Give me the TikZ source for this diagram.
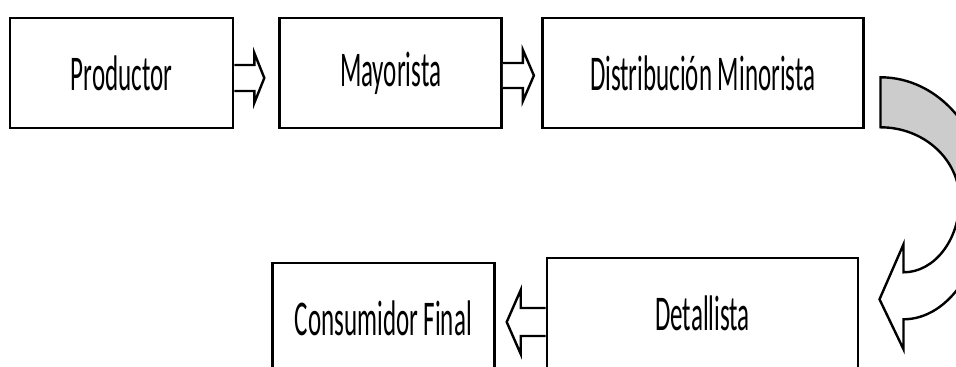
\documentclass[tikz,border=0pt]{standalone}
\usepackage{fontspec}
\setmainfont{Carlito}[FakeStretch=0.5]
\usetikzlibrary{positioning,calc}

\definecolor{gris}{RGB}{204,204,204}

\tikzset{
  caja/.style={draw, line width=1.3pt, minimum height=55pt, inner sep=0pt,
    font=\fontsize{25}{30}\selectfont},
  flecha/.style={draw, line width=1.2pt, fill=white, line join=miter},
}

% flecha de bloque: desde, hasta, dy, medio cuerpo, media punta, base punta, punta
\newcommand{\flechabloque}[7]{%
  \draw[flecha] let \p1=(#1), \p2=(#2) in
    ({\x1},{\y1+(#3)+(#4)}) -- ({\x2+(#6)},{\y1+(#3)+(#4)})
    -- ({\x2+(#6)},{\y1+(#3)+(#5)}) -- ({\x2+(#7)},{\y1+(#3)})
    -- ({\x2+(#6)},{\y1+(#3)-(#5)}) -- ({\x2+(#6)},{\y1+(#3)-(#4)})
    -- ({\x1},{\y1+(#3)-(#4)});}

\begin{document}
\begin{tikzpicture}[x=0.5pt, y=-0.5pt]
  \clip (0,0) rectangle (956,367);

  \node[caja, minimum width=111.5pt] (prod) at (121.5,73) {Productor};
  \node[caja, minimum width=111pt, right=22pt of prod] (may) {Mayorista};
  \node[caja, minimum width=160.5pt, right=19pt of may] (dist) {Distribución Minorista};

  \node[caja, minimum width=155.5pt] (det) at (702.5,313) {Detallista};
  \node[caja, minimum width=111pt, left=25pt of det, yshift=-2.5pt] (cons) {Consumidor Final};

  \flechabloque{prod.east}{may.west}{-2.5pt}{6.5pt}{12.5pt}{-12pt}{-7pt}
  \flechabloque{may.east}{dist.west}{-1.25pt}{6.25pt}{12.75pt}{-9pt}{-3.5pt}
  \flechabloque{det.west}{cons.east}{-4.5pt}{7pt}{16pt}{12.5pt}{5.5pt}

  % flecha curva de dist a det
  \begin{scope}[shift={(dist.south east)}]
    \fill[gris] (16,-52) .. controls (74,-52) and (121,2) .. (121,69)
      -- (95,70.5) .. controls (95,30.5) and (59.6,-2) .. (16,-2) -- cycle;
    \draw[line width=1.2pt, line join=miter] (16,-52) .. controls (74,-52) and (121,2) .. (121,69)
      .. controls (121,136) and (84,190) .. (39,190) -- (39,220) -- (15,170) -- (39,115) -- (39,143)
      .. controls (70,143) and (95,110.5) .. (95,70.5)
      .. controls (95,30.5) and (59.6,-2) .. (16,-2) -- cycle;
  \end{scope}
\end{tikzpicture}
\end{document}
